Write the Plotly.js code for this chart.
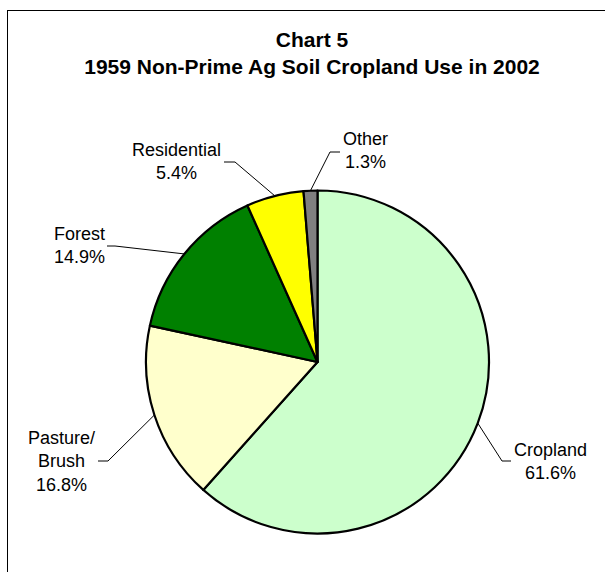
<!DOCTYPE html>
<html>
<head>
<meta charset="utf-8">
<script src="https://cdn.plot.ly/plotly-3.0.1.min.js"></script>
<style>
  html, body { margin: 0; padding: 0; overflow: hidden; background: #fff; }
  #chart { position: absolute; left: 0; top: 0; width: 605px; height: 572px; }
  #frame { position: absolute; left: 7px; top: 10px; width: 800px; height: 800px;
           border: 1px solid #000; pointer-events: none; }
</style>
</head>
<body>
<div id="chart"></div>
<div id="frame"></div>
<script>
// ---- data ----
const categories = ["Cropland", "Pasture/<br>Brush", "Forest", "Residential", "Other"];
const shares = [61.6, 16.8, 14.9, 5.4, 1.3];
const sliceColors = ["#CCFFCC", "#FFFFCC", "#008000", "#FFFF00", "#808080"];
const titleText = "Chart 5<br>1959 Non-Prime Ag Soil Cropland Use in 2002";

// ---- layout constants (pixels) ----
const W = 605, H = 572;
const CX = 317.5, CY = 362, R = 171.5;
// label centre and leader elbow/end for each slice (in pixels)
const labelPos = [
  {lx: 550.5, ly: 461, bx: 502, ex: 511, ey: 461},
  {lx: 61,    ly: 461, bx: 108, ex: 98,  ey: 461},
  {lx: 79,    ly: 246, bx: 115, ex: 107, ey: 246},
  {lx: 176,   ly: 161, bx: 235, ex: 224, ey: 162},
  {lx: 365,   ly: 150, bx: 330, ex: 340, ey: 152}
];

const px = x => x / W;
const py = y => 1 - y / H;

const total = shares.reduce((a, b) => a + b, 0);
let cum = 0;
const annotations = [];
const shapes = [];
shares.forEach((v, i) => {
  const mid = (cum + v / 2) / total;   // fraction, clockwise from top
  cum += v;
  const ang = Math.PI / 2 - mid * 2 * Math.PI;
  const sx = CX + R * Math.cos(ang);
  const sy = CY - R * Math.sin(ang);
  const L = labelPos[i];
  shapes.push({
    type: "path", xref: "paper", yref: "paper",
    path: `M ${px(sx)} ${py(sy)} L ${px(L.bx)} ${py(L.ey)} L ${px(L.ex)} ${py(L.ey)}`,
    line: {color: "#000", width: 1}
  });
  annotations.push({
    xref: "paper", yref: "paper", x: px(L.lx), y: py(L.ly),
    xanchor: "center", yanchor: "middle", showarrow: false, align: "center",
    text: categories[i] + "<br>" + v.toFixed(1) + "%",
    font: {family: "Liberation Sans, Arial, sans-serif", size: 18, color: "#000"}
  });
});

const trace = {
  type: "pie",
  labels: categories,
  values: shares,
  sort: false,
  direction: "clockwise",
  rotation: 0,
  textinfo: "none",
  hoverinfo: "skip",
  marker: {colors: sliceColors, line: {color: "#000", width: 2.2}},
  domain: {x: [px(CX - R), px(CX + R)], y: [py(CY + R), py(CY - R)]},
  showlegend: false
};

const layout = {
  width: W, height: H,
  margin: {l: 0, r: 0, t: 0, b: 0},
  paper_bgcolor: "rgba(0,0,0,0)",
  plot_bgcolor: "rgba(0,0,0,0)",
  showlegend: false,
  title: {
    text: titleText,
    font: {family: "Liberation Sans, Arial, sans-serif", size: 21, color: "#000", weight: "bold"},
    x: px(312), xanchor: "center",
    xref: "paper", yref: "container",
    y: 1 - 47 / H, yanchor: "top"
  },
  annotations: annotations,
  shapes: shapes
};

Plotly.newPlot("chart", [trace], layout, {displayModeBar: false, staticPlot: true});
</script>
</body>
</html>
